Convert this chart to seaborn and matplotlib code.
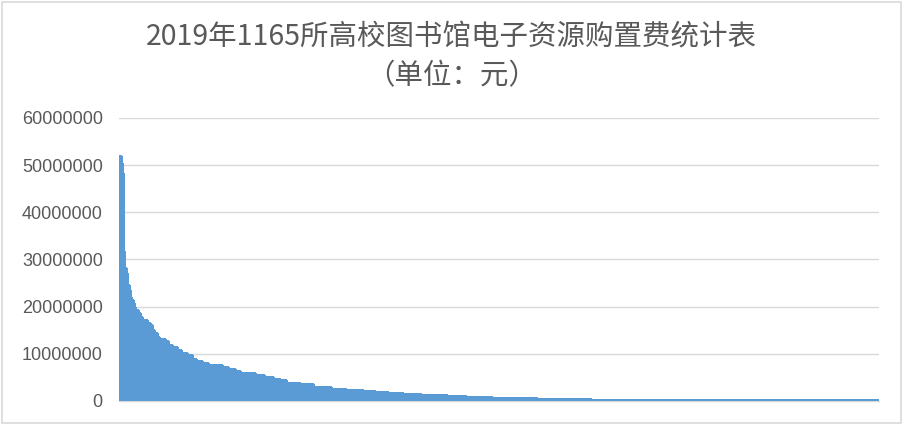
import numpy as np
import pandas as pd
import seaborn as sns
import matplotlib.pyplot as plt
from matplotlib.patches import Rectangle

# 电子资源购置费，按金额从高到低排列（单位：百万元），按连续相同高度分段读取
seg_counts = [2, 2, 1, 2, 3, 2, 2, 2, 2, 2, 2, 2, 4, 3, 4, 7, 5, 3, 3, 4,
              4, 9, 5, 5, 8, 7, 8, 8, 7, 8, 10, 21, 10, 10, 8, 23, 13, 15, 10, 10,
              21, 20, 28, 23, 26, 18, 20, 23, 28, 39, 30, 39, 69, 83, 149, 293]
seg_values = [51.9, 50.4, 48.3, 31.7, 28.1, 27.1, 24.6, 23.5, 22.1, 21.4,
              20.7, 20.0, 19.3, 18.6, 17.9, 17.2, 16.6, 16.1, 15.1, 14.4,
              13.5, 13.1, 12.7, 11.9, 11.4, 10.8, 10.2, 9.8, 9.0, 8.5,
              8.1, 7.6, 7.3, 6.7, 6.4, 5.9, 5.5, 5.0, 4.7, 4.4,
              3.9, 3.5, 3.0, 2.5, 2.3, 2.1, 1.9, 1.7, 1.5, 1.3,
              1.06, 0.85, 0.64, 0.42, 0.3, 0.15]
y_ticks = [0, 10000000, 20000000, 30000000, 40000000, 50000000, 60000000]
title = "2019年1165所高校图书馆电子资源购置费统计表\n（单位：元）"

spend = np.repeat(np.array(seg_values) * 1e6, seg_counts)
frame = pd.DataFrame({"rank": np.arange(len(spend)), "spend": spend})

sns.set_style("white")
plt.rcParams["font.family"] = ["Noto Sans CJK SC", "DejaVu Sans"]

fig = plt.figure(figsize=(9.03, 4.25), dpi=100)
ax = fig.add_axes([0.1323, 0.0565, 0.9734 - 0.1323, 0.7224 - 0.0565])

sns.barplot(data=frame, x="rank", y="spend", color="#5B9BD5", width=1.0,
            linewidth=0.8, edgecolor="#5B9BD5", saturation=1,
            antialiased=False, ax=ax)

ax.set_ylim(0, 60000000)
ax.set_xlim(-0.5, len(spend) - 0.5)
ax.set_yticks(y_ticks)
ax.set_yticklabels([str(v) for v in y_ticks], fontsize=13,
                   color="#595959", family="Liberation Sans")
ax.set_xticks([])
ax.set_xlabel("")
ax.set_ylabel("")
ax.tick_params(axis="y", length=0, pad=12)
ax.yaxis.grid(True, color="#D9D9D9", linewidth=1)
ax.set_axisbelow(True)
sns.despine(ax=ax, left=True, top=True, right=True)
ax.spines["bottom"].set_color("#D9D9D9")
ax.spines["bottom"].set_linewidth(1)
ax.spines["bottom"].set_zorder(0.5)

fig.text(0.5, 0.868, title, ha="center", va="center", fontsize=20.5,
         color="#595959", linespacing=1.42)

fig.patches.append(Rectangle((0.002, 0.004), 0.996, 0.992, transform=fig.transFigure,
                             fill=False, edgecolor="#D9D9D9", linewidth=1.2))

fig.savefig("out.png", dpi=100)
